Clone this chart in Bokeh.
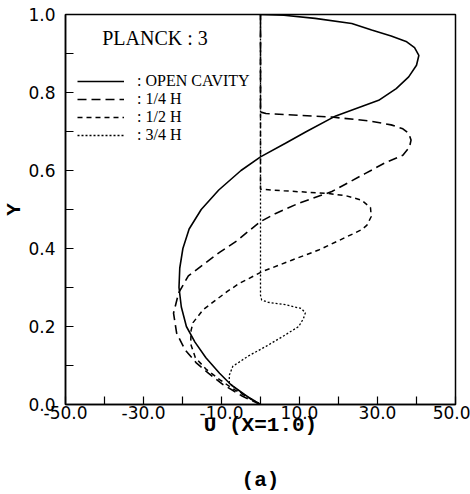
from bokeh.plotting import figure
from bokeh.models import FixedTicker, Legend, LegendItem, Label
from bokeh.embed import file_html
from bokeh.resources import INLINE

# ---- data ----
open_y = [0.0, 0.02, 0.05, 0.08, 0.12, 0.16, 0.20, 0.25, 0.30, 0.35, 0.40, 0.45, 0.50,
          0.55, 0.60, 0.635, 0.67, 0.70, 0.74, 0.78, 0.81, 0.84, 0.87, 0.895, 0.915,
          0.93, 0.945, 0.96, 0.977, 0.99, 0.998, 1.0]
open_u = [0.0, -3.3, -7.5, -10.5, -14.0, -16.8, -19.0, -20.3, -20.9, -20.7, -19.9, -18.3,
          -15.2, -10.7, -5.0, 0.0, 6.4, 11.8, 19.3, 30.3, 34.8, 38.0, 40.0, 40.6, 39.5,
          37.5, 33.5, 28.5, 23.4, 14.0, 6.0, 0.0]

q14_y = [0.0, 0.021, 0.051, 0.08, 0.106, 0.141, 0.183, 0.234, 0.286, 0.33, 0.36, 0.39,
         0.42, 0.445, 0.469, 0.49, 0.516, 0.546, 0.592, 0.62, 0.639, 0.66, 0.678, 0.695,
         0.707, 0.717, 0.727, 0.737, 0.746, 0.75, 1.0]
q14_u = [0.0, -4.6, -9.6, -13.3, -16.4, -19.4, -21.5, -22.3, -21.0, -18.5, -14.5, -10.5,
         -6.0, -3.0, 0.0, 3.9, 9.8, 18.3, 26.8, 32.0, 36.5, 38.2, 38.6, 38.0, 36.5, 33.5,
         28.0, 18.3, 1.4, 0.0, 0.0]

q12_y = [1.0, 0.552, 0.548, 0.541, 0.535, 0.524, 0.505, 0.482, 0.46, 0.448, 0.42, 0.396,
         0.37, 0.341, 0.31, 0.29, 0.269, 0.243, 0.21, 0.19, 0.155, 0.12, 0.09, 0.064,
         0.04, 0.021, 0.0]
q12_u = [0.0, 0.0, 6.0, 17.4, 22.0, 25.9, 28.2, 28.4, 27.3, 25.9, 20.0, 14.9, 8.0, 0.5,
         -5.5, -8.5, -11.3, -14.7, -17.3, -17.8, -17.9, -16.7, -13.9, -10.5, -7.0, -3.7,
         0.0]

q34_y = [1.0, 0.28, 0.268, 0.262, 0.256, 0.246, 0.235, 0.22, 0.2, 0.175, 0.149, 0.125,
         0.098, 0.075, 0.055, 0.03, 0.0]
q34_u = [0.0, 0.0, 0.3, 2.0, 6.4, 10.5, 11.5, 11.0, 9.8, 5.8, 1.4, -3.0, -7.1, -8.0,
         -8.0, -5.0, 0.0]

series_names = [": OPEN CAVITY", ": 1/4 H", ": 1/2 H", ": 3/4 H"]

x_ticks = [-50.0, -30.0, -10.0, 10.0, 30.0, 50.0]
x_minor = [-40.0, -20.0, 0.0, 20.0, 40.0]
x_tick_labels = ["-50.0", "-30.0", "-10.0", "10.0", "30.0", "50.0"]
y_ticks = [0.0, 0.2, 0.4, 0.6, 0.8, 1.0]
y_minor = [0.1, 0.3, 0.5, 0.7, 0.9]
y_tick_labels = ["0.0", "0.2", "0.4", "0.6", "0.8", "1.0"]

title_text = "PLANCK : 3"
x_label = "U (X=1.0)"
y_label = "Y"
panel_tag = "(a)"

# ---- figure ----
p = figure(width=470, height=494, x_range=(-50, 50), y_range=(0, 1),
           output_backend="svg", toolbar_location=None,
           min_border_left=61, min_border_right=15, min_border_top=14,
           min_border_bottom=89)
p.background_fill_color = "white"
p.border_fill_color = "white"
p.outline_line_color = "black"
p.outline_line_width = 1.5
p.xgrid.visible = False
p.ygrid.visible = False

p.xaxis.ticker = FixedTicker(ticks=x_ticks, minor_ticks=x_minor)
p.yaxis.ticker = FixedTicker(ticks=y_ticks, minor_ticks=y_minor)
p.xaxis.major_label_overrides = dict(zip(x_ticks, x_tick_labels))
p.yaxis.major_label_overrides = dict(zip(y_ticks, y_tick_labels))

for ax in (p.xaxis[0], p.yaxis[0]):
    ax.axis_line_color = "black"
    ax.axis_line_width = 1.5
    ax.major_tick_in = 8
    ax.major_tick_out = 0
    ax.minor_tick_in = 8
    ax.minor_tick_out = 0
    ax.major_tick_line_color = "black"
    ax.minor_tick_line_color = "black"
    ax.major_tick_line_width = 1.2
    ax.minor_tick_line_width = 1.2
    ax.major_label_text_font = "DejaVu Sans"
    ax.major_label_text_font_size = "17px"
    ax.major_label_text_color = "black"
    ax.axis_label_text_font = "Liberation Mono"
    ax.axis_label_text_font_style = "bold"
    ax.axis_label_text_font_size = "21px"
    ax.axis_label_text_color = "black"

# the panel tag "(a)" sits two lines under the x-axis title
p.xaxis.axis_label = x_label + "\n\n" + panel_tag
p.xaxis.axis_label_text_line_height = 1.2
p.yaxis.axis_label = y_label
p.xaxis.major_label_standoff = 1
p.xaxis.axis_label_standoff = -8
p.yaxis.major_label_standoff = 10
p.yaxis.axis_label_standoff = -1

r_open = p.line(open_u, open_y, line_color="black", line_width=1.6)
r_14 = p.line(q14_u, q14_y, line_color="black", line_width=1.6, line_dash="9 5")
r_12 = p.line(q12_u, q12_y, line_color="black", line_width=1.5, line_dash="5 4")
r_34 = p.line(q34_u, q34_y, line_color="black", line_width=1.3, line_dash="2 2")

# one single-row legend per series, so each row can sit where the reference has it
legend_bottoms = [314, 296, 278, 260]
for name, rend, vy in zip(series_names, [r_open, r_14, r_12, r_34], legend_bottoms):
    lg = Legend(items=[LegendItem(label=name, renderers=[rend])],
                location=(12, vy), orientation="vertical",
                glyph_width=47, glyph_height=16, label_standoff=13,
                label_height=16, spacing=0, padding=0, margin=0,
                border_line_color=None, background_fill_alpha=0,
                label_text_font="Liberation Serif", label_text_font_size="16px",
                label_text_color="black")
    p.add_layout(lg)

p.add_layout(Label(x=-40.6, y=0.941, text=title_text, text_font="Liberation Serif",
                   text_font_size="20px", text_baseline="middle", text_color="black"))

open("out.html", "w").write(file_html(p, INLINE))
